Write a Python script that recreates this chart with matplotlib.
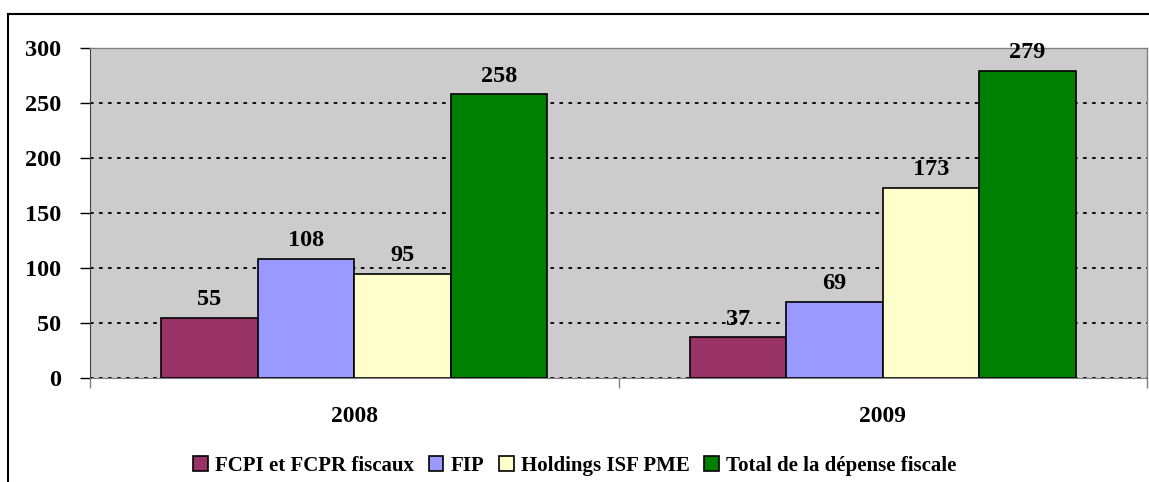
import matplotlib
matplotlib.use("Agg")
import matplotlib.pyplot as plt
import numpy as np
from matplotlib.patches import Rectangle

years = ["2008", "2009"]
series = ["FCPI et FCPR fiscaux", "FIP", "Holdings ISF PME", "Total de la dépense fiscale"]
values = {
    "FCPI et FCPR fiscaux": [55, 37],
    "FIP": [108, 69],
    "Holdings ISF PME": [95, 173],
    "Total de la dépense fiscale": [258, 279],
}
colors = ["#993366", "#9999FF", "#FFFFCC", "#008000"]
yticks = [0, 50, 100, 150, 200, 250, 300]

plt.rcParams['font.family'] = ['Liberation Serif', 'DejaVu Serif']
plt.rcParams['font.weight'] = 'bold'

fig = plt.figure(figsize=(11.49, 4.82), dpi=100)
ax = fig.add_axes([90/1149, 1 - 378/482, (1147-90)/1149, (378-48)/482])

n = len(series)
width = 0.1825
x = np.arange(len(years))
for i, s in enumerate(series):
    pos = x + (i - (n - 1) / 2) * width
    bars = ax.bar(pos, values[s], width, color=colors[i], edgecolor="black",
                  linewidth=1.2, label=s, zorder=3)
    for b, v in zip(bars, values[s]):
        ax.text(b.get_x() + b.get_width() / 2, v + 7, str(v), ha="center",
                va="bottom", fontsize=17.5, fontweight="bold", zorder=4)

ax.set_xlim(-0.5, 1.5)
ax.set_ylim(0, 300)
ax.set_facecolor("#CCCCCC")
ax.set_yticks(yticks)
ax.set_yticklabels([str(t) for t in yticks], fontsize=17.5, fontweight="bold")
ax.set_xticks([-0.5, 0.5, 1.5], minor=False)
ax.set_xticklabels(["", "", ""])
ax.set_xticks(x, minor=True)
ax.set_xticklabels(years, minor=True, fontsize=17, fontweight="bold")
ax.tick_params(axis="x", which="minor", length=0, pad=20)
ax.tick_params(axis="x", which="major", length=7, width=1, color="#808080", direction="out")
ax.tick_params(axis="y", length=7, width=1, color="black", direction="out", pad=14)
ax.yaxis.grid(True, linestyle=(0, (2, 3)), color="black", linewidth=1.3, zorder=1)
ax.set_axisbelow(True)

for sp in ["top", "right"]:
    ax.spines[sp].set_color("#808080")
    ax.spines[sp].set_linewidth(1)
ax.spines["left"].set_color("#404040")
ax.spines["bottom"].set_color("#808080")

leg = fig.legend(loc="center", bbox_to_anchor=(575/1149, 1 - 466/482), ncol=4,
                 frameon=False, handlelength=0.7, handleheight=0.7,
                 handletextpad=0.35, columnspacing=0.7,
                 prop={"weight": "bold", "size": 15})

fig.patches.append(Rectangle((8/1149, -0.05), 1.0, 1 - 14/482 + 0.05,
                             transform=fig.transFigure, fill=False,
                             edgecolor="black", linewidth=1.5))

fig.savefig("out.png", dpi=100)
